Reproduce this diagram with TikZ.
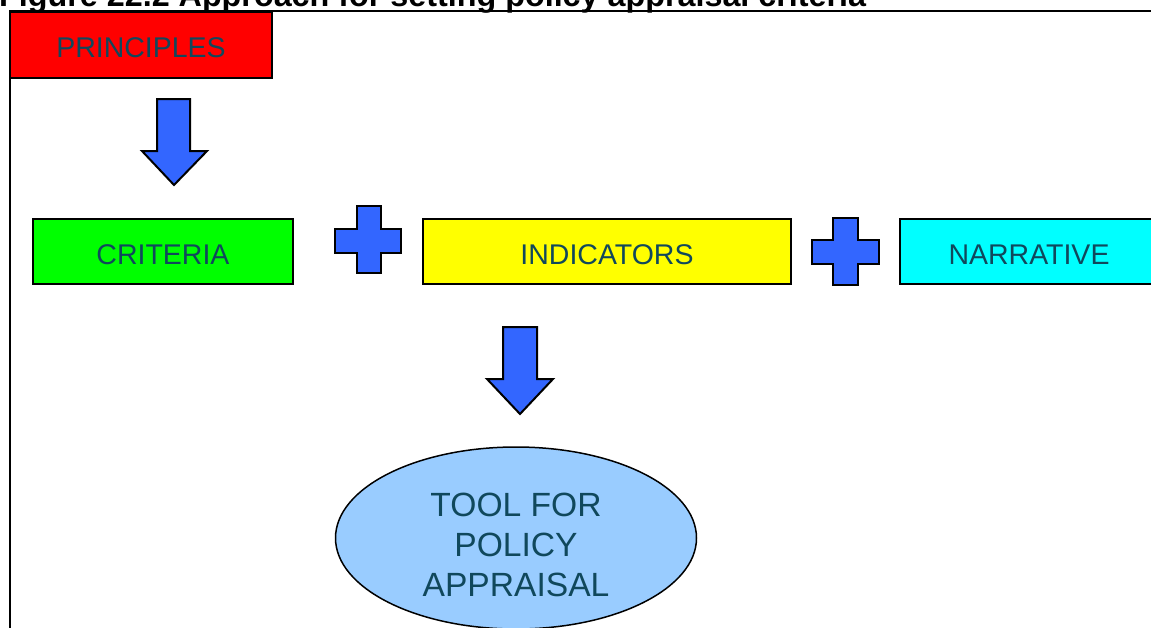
\documentclass[tikz,border=0pt]{standalone}
\usepackage{fontspec}
\setmainfont{Liberation Sans}
\usetikzlibrary{shapes.geometric}
\definecolor{txt}{RGB}{16,72,92}
\definecolor{blk}{RGB}{51,102,255}
\definecolor{ell}{RGB}{153,204,255}
\definecolor{cred}{RGB}{255,0,0}
\definecolor{cgreen}{RGB}{0,255,0}
\definecolor{cyellow}{RGB}{255,255,0}
\definecolor{ccyan}{RGB}{0,255,255}
\tikzset{
  box/.style={draw=black, line width=2pt, rectangle, inner sep=0pt},
  lbl/.style={inner sep=0pt, text=txt, font=\fontsize{28.5}{34}\selectfont},
  blockshape/.style={draw=black, line width=2pt, fill=blk, line join=miter},
}
\begin{document}
\begin{tikzpicture}[x=1pt,y=-1pt]
\useasboundingbox (0,0) rectangle (1151,627);
% title (cut at top)
\node[anchor=base west, inner sep=0pt, font=\bfseries\fontsize{32.3}{38}\selectfont] (title) at (-1,6) {Figure 22.2 Approach for setting policy appraisal criteria};
% frame
\draw[line width=2pt] (1160,11) -- (10,11) -- (10,640);
% boxes
\node[box, fill=cred, minimum width=262pt, minimum height=66pt] (princ) at (141,45) {};
\node[lbl] (princt) at ([yshift=-3pt]princ.center) {PRINCIPLES};
\node[box, fill=cgreen, minimum width=260pt, minimum height=65pt] (crit) at (163,251.5) {};
\node[lbl] (critt) at ([yshift=-3pt]crit.center) {CRITERIA};
\node[box, fill=cyellow, minimum width=368pt, minimum height=65pt] (ind) at (607,251.5) {};
\node[lbl] (indt) at ([yshift=-3pt]ind.center) {INDICATORS};
\node[box, fill=ccyan, minimum width=262pt, minimum height=65pt, anchor=west] (narr) at (899,251.5) {};
\node[lbl] (narrt) at (1029,255) {NARRATIVE};
% ellipse
\node[ellipse, draw=black, line width=1.5pt, fill=ell, minimum width=361pt, minimum height=182pt, inner sep=0pt] (tool) at (516,538) {};
\node[inner sep=0pt, text=txt, align=center, font=\fontsize{33.6}{40}\selectfont] (toolt) at ([yshift=-7pt]tool.center) {TOOL FOR\\POLICY\\APPRAISAL};
% arrows
\draw[blockshape] (157,99) -- (190,99) -- (190,151) -- (207,151) -- (174,185) -- (142,151) -- (157,151) -- cycle;
\draw[blockshape] (503,327) -- (537,327) -- (537,379) -- (553,379) -- (520,414) -- (487,379) -- (503,379) -- cycle;
% plus signs
\draw[blockshape] (357,206) -- (381,206) -- (381,229) -- (401,229) -- (401,253) -- (381,253) -- (381,273) -- (357,273) -- (357,253) -- (335,253) -- (335,229) -- (357,229) -- cycle;
\draw[blockshape] (833,218) -- (858,218) -- (858,240) -- (879,240) -- (879,264) -- (858,264) -- (858,285) -- (833,285) -- (833,264) -- (812,264) -- (812,240) -- (833,240) -- cycle;
\end{tikzpicture}
\end{document}
